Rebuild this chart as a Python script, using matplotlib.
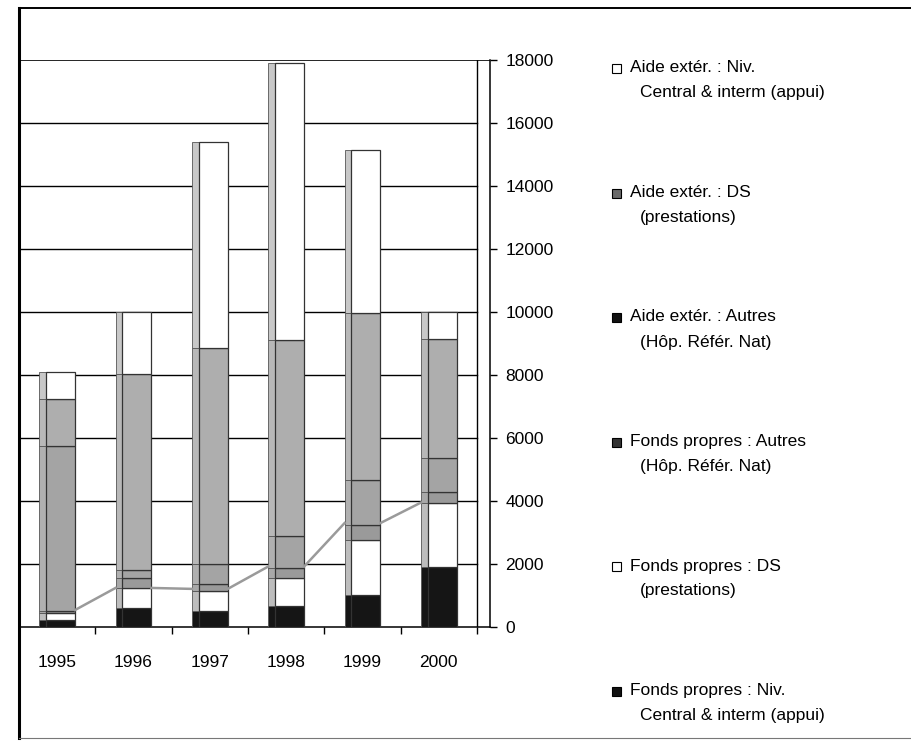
import matplotlib
matplotlib.use("Agg")
import matplotlib.pyplot as plt
from matplotlib.patches import Rectangle
import numpy as np

plt.rcParams["font.family"] = ["Liberation Sans", "DejaVu Sans"]

# données, du bas vers le haut de la pile
annees = ["1995", "1996", "1997", "1998", "1999", "2000"]
fp_central = [220, 600, 520, 670, 1020, 1920]       # Fonds propres : Niv. Central & interm
fp_ds = [230, 640, 630, 890, 1750, 2030]            # Fonds propres : DS
fp_autres = [50, 320, 200, 320, 480, 350]           # Fonds propres : Autres
ae_autres = [5250, 250, 650, 1020, 1430, 1050]      # Aide extér. : Autres
ae_ds = [1500, 6220, 6850, 6200, 5290, 3790]        # Aide extér. : DS
ae_central = [850, 1970, 6560, 8800, 5160, 860]     # Aide extér. : Niv. Central & interm
ligne_serie = [540, 1240, 1210, 1920, 3300, 3950]

y_ticks = [0, 2000, 4000, 6000, 8000, 10000, 12000, 14000, 16000, 18000]

series = [
    (fp_central, "#151515", "#151515"),
    (fp_ds, "#ffffff", "#bdbdbd"),
    (fp_autres, "#9a9a9a", "#a8a8a8"),
    (ae_autres, "#a4a4a4", "#b0b0b0"),
    (ae_ds, "#aeaeae", "#b8b8b8"),
    (ae_central, "#ffffff", "#c8c8c8"),
]

legende = [
    ("Aide extér. : Niv.", "Central & interm (appui)", "#ffffff"),
    ("Aide extér. : DS", "(prestations)", "#6a6a6a"),
    ("Aide extér. : Autres", "(Hôp. Référ. Nat)", "#111111"),
    ("Fonds propres : Autres", "(Hôp. Référ. Nat)", "#333333"),
    ("Fonds propres : DS", "(prestations)", "#ffffff"),
    ("Fonds propres : Niv.", "Central & interm (appui)", "#111111"),
]

W, H = 911, 741
fig = plt.figure(figsize=(W / 100, H / 100), dpi=100)
ax = fig.add_axes([19 / W, 1 - 627 / H, (490 - 19) / W, (627 - 60) / H])

x = np.arange(len(annees))
larg = 0.47
cote = 0.09

# grille (s'arrête au mur latéral)
for t in y_ticks[1:-1]:
    ax.plot([-0.5, 5.5], [t, t], color="black", lw=1.0, zorder=1)
ax.plot([-0.5, 5.67], [18000, 18000], color="black", lw=1.2, zorder=1)
ax.plot([5.5, 5.5], [0, 18000], color="black", lw=1.0, zorder=1)

bas = np.zeros(len(annees))
for vals, face, flanc in series:
    vals = np.array(vals, dtype=float)
    ax.bar(x - larg / 2 + cote / 2, vals, width=cote, bottom=bas, color=flanc,
           edgecolor="#555555", linewidth=0.6, zorder=3)
    ax.bar(x + cote / 2, vals, width=larg - cote, bottom=bas, color=face,
           edgecolor="#333333", linewidth=0.9, zorder=3)
    bas += vals

# lignes de série
for i in range(len(annees) - 1):
    ax.plot([x[i] + larg / 2, x[i + 1] - larg / 2],
            [ligne_serie[i], ligne_serie[i + 1]],
            color="#9a9a9a", lw=1.8, zorder=4)

ax.set_xlim(-0.5, 5.67)
ax.set_ylim(0, 18000)
ax.set_xticks(x)
ax.set_xticklabels(annees, fontsize=12.5)
ax.set_xticks(np.arange(-0.5, 5.6, 1), minor=True)
ax.tick_params(axis="x", which="major", length=0, pad=20)
ax.tick_params(axis="x", which="minor", length=5, direction="out", width=1)
ax.yaxis.tick_right()
ax.set_yticks(y_ticks)
ax.set_yticklabels([str(t) for t in y_ticks], fontsize=12.5)
ax.tick_params(axis="y", length=5, width=1, direction="out", pad=6)
for s in ["top", "left"]:
    ax.spines[s].set_visible(False)
ax.spines["right"].set_linewidth(1.1)
ax.spines["bottom"].set_linewidth(1.1)

# légende manuelle
y0, pas = 68, 124.5
for k, (l1, l2, c) in enumerate(legende):
    yc = y0 + k * pas
    fig.add_artist(Rectangle((612 / W, 1 - (yc + 5) / H), 9 / W, 9 / H,
                             transform=fig.transFigure, facecolor=c,
                             edgecolor="black", linewidth=0.8))
    fig.text(630 / W, 1 - yc / H, l1, fontsize=12.5, va="center", ha="left")
    fig.text(640 / W, 1 - (yc + 25) / H, l2, fontsize=12.5, va="center", ha="left")

# cadre (haut et gauche visibles sur le scan)
fig.add_artist(plt.Line2D([19 / W, 19 / W], [1 - 8 / H, 1 - 738 / H],
                          transform=fig.transFigure, color="black", lw=2.2))
fig.add_artist(plt.Line2D([19 / W, 1.0], [1 - 8 / H, 1 - 8 / H],
                          transform=fig.transFigure, color="black", lw=1.4))
fig.add_artist(plt.Line2D([19 / W, 1.0], [1 - 738 / H, 1 - 738 / H],
                          transform=fig.transFigure, color="#777777", lw=0.8))

fig.savefig("out.png", dpi=100)
